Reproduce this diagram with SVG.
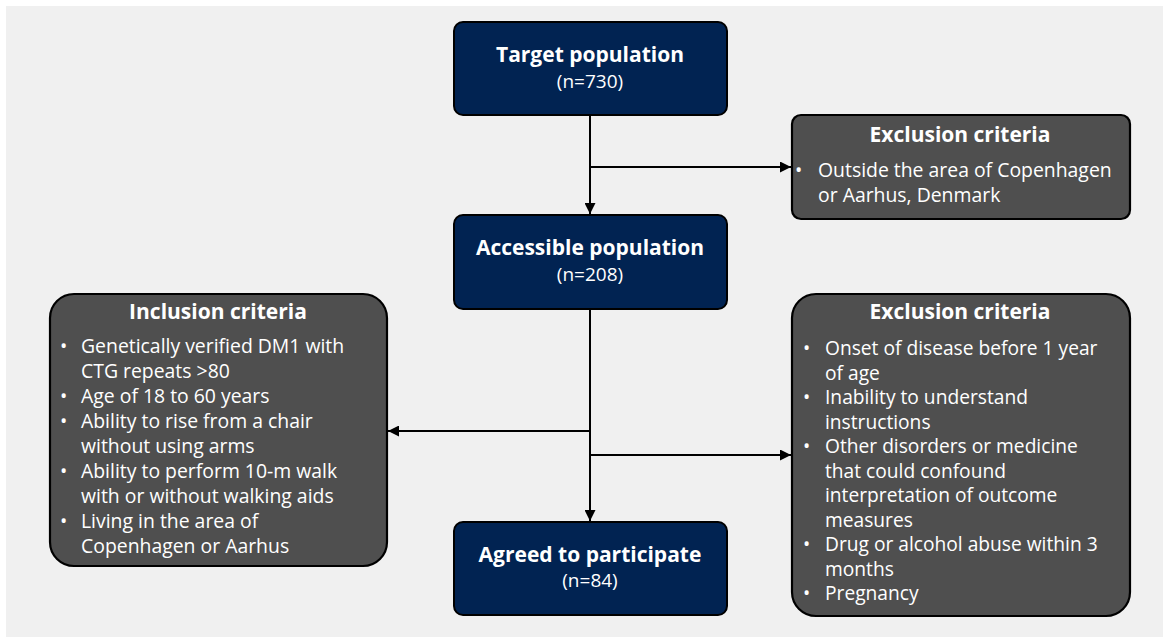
<svg xmlns="http://www.w3.org/2000/svg" width="1163" height="637" viewBox="0 0 1163 637">
  <defs>
    <marker id="arrow" viewBox="0 0 10 10" refX="10" refY="5" markerWidth="5.5" markerHeight="5.5" orient="auto" markerUnits="strokeWidth">
      <path d="M0,0 L10,5 L0,10 z" fill="#000"/>
    </marker>
    <style>
      .pop { fill: #012352; stroke: #000; stroke-width: 2; }
      .crit { fill: #4f4f4f; stroke: #000; stroke-width: 2.2; }
      .t { font-family: "Open Sans", "Liberation Sans", sans-serif; fill: #fff; }
      .head { font-size: 21px; font-weight: bold; text-anchor: middle; }
      .n { font-size: 19px; text-anchor: middle; }
      .li { font-size: 19.4px; }
      .li2 { font-size: 19.2px; }
      .link { fill: none; stroke: #000; stroke-width: 2; }
    </style>
  </defs>

  <!-- page backdrop -->
  <rect x="0" y="0" width="1163" height="637" fill="#ffffff"/>
  <rect x="6" y="6" width="1157" height="631" fill="#f0f0f0"/>

  <!-- connectors -->
  <g id="connectors">
    <line class="link" x1="590" y1="115" x2="590" y2="214" marker-end="url(#arrow)"/>
    <line class="link" x1="590" y1="167" x2="791" y2="167" marker-end="url(#arrow)"/>
    <line class="link" x1="590" y1="309" x2="590" y2="521" marker-end="url(#arrow)"/>
    <line class="link" x1="590" y1="431" x2="388" y2="431" marker-end="url(#arrow)"/>
    <line class="link" x1="590" y1="455" x2="791" y2="455" marker-end="url(#arrow)"/>
  </g>

  <g id="target">
    <rect class="pop" x="454" y="22" width="273" height="93" rx="9"/>
    <text class="t head" x="590" y="62">Target population</text>
    <text class="t n" x="590" y="88">(n=730)</text>
  </g>

  <g id="exclusion-area">
    <rect class="crit" x="792" y="115" width="338" height="104" rx="9"/>
    <text class="t head" x="960" y="142">Exclusion criteria</text>
    <text class="t li" x="795" y="177">•</text>
    <text class="t li" x="818" y="177">Outside the area of Copenhagen</text>
    <text class="t li" x="818" y="202">or Aarhus, Denmark</text>
  </g>

  <g id="accessible">
    <rect class="pop" x="454" y="215" width="273" height="94" rx="9"/>
    <text class="t head" x="590" y="255">Accessible population</text>
    <text class="t n" x="590" y="281">(n=208)</text>
  </g>

  <g id="inclusion">
    <rect class="crit" x="50" y="294" width="337" height="272" rx="24"/>
    <text class="t head" x="218" y="319">Inclusion criteria</text>
    <g class="t li">
      <text x="60" y="353">•</text>
      <text x="81" y="353">Genetically verified DM1 with</text>
      <text x="81" y="378">CTG repeats &gt;80</text>
      <text x="60" y="403">•</text>
      <text x="81" y="403">Age of 18 to 60 years</text>
      <text x="60" y="428">•</text>
      <text x="81" y="428">Ability to rise from a chair</text>
      <text x="81" y="453">without using arms</text>
      <text x="60" y="478">•</text>
      <text x="81" y="478">Ability to perform 10-m walk</text>
      <text x="81" y="503">with or without walking aids</text>
      <text x="60" y="528">•</text>
      <text x="81" y="528">Living in the area of</text>
      <text x="81" y="553">Copenhagen or Aarhus</text>
    </g>
  </g>

  <g id="exclusion-study">
    <rect class="crit" x="792" y="294" width="338" height="322" rx="24"/>
    <text class="t head" x="960" y="319">Exclusion criteria</text>
    <g class="t li2">
      <text x="803" y="355">•</text>
      <text x="825" y="355">Onset of disease before 1 year</text>
      <text x="825" y="379.5">of age</text>
      <text x="803" y="404">•</text>
      <text x="825" y="404">Inability to understand</text>
      <text x="825" y="428.5">instructions</text>
      <text x="803" y="453">•</text>
      <text x="825" y="453">Other disorders or medicine</text>
      <text x="825" y="477.5">that could confound</text>
      <text x="825" y="502">interpretation of outcome</text>
      <text x="825" y="526.5">measures</text>
      <text x="803" y="551">•</text>
      <text x="825" y="551">Drug or alcohol abuse within 3</text>
      <text x="825" y="575.5">months</text>
      <text x="803" y="600">•</text>
      <text x="825" y="600">Pregnancy</text>
    </g>
  </g>

  <g id="agreed">
    <rect class="pop" x="454" y="522" width="273" height="93" rx="9"/>
    <text class="t head" x="590" y="562">Agreed to participate</text>
    <text class="t n" x="590" y="587">(n=84)</text>
  </g>
</svg>
